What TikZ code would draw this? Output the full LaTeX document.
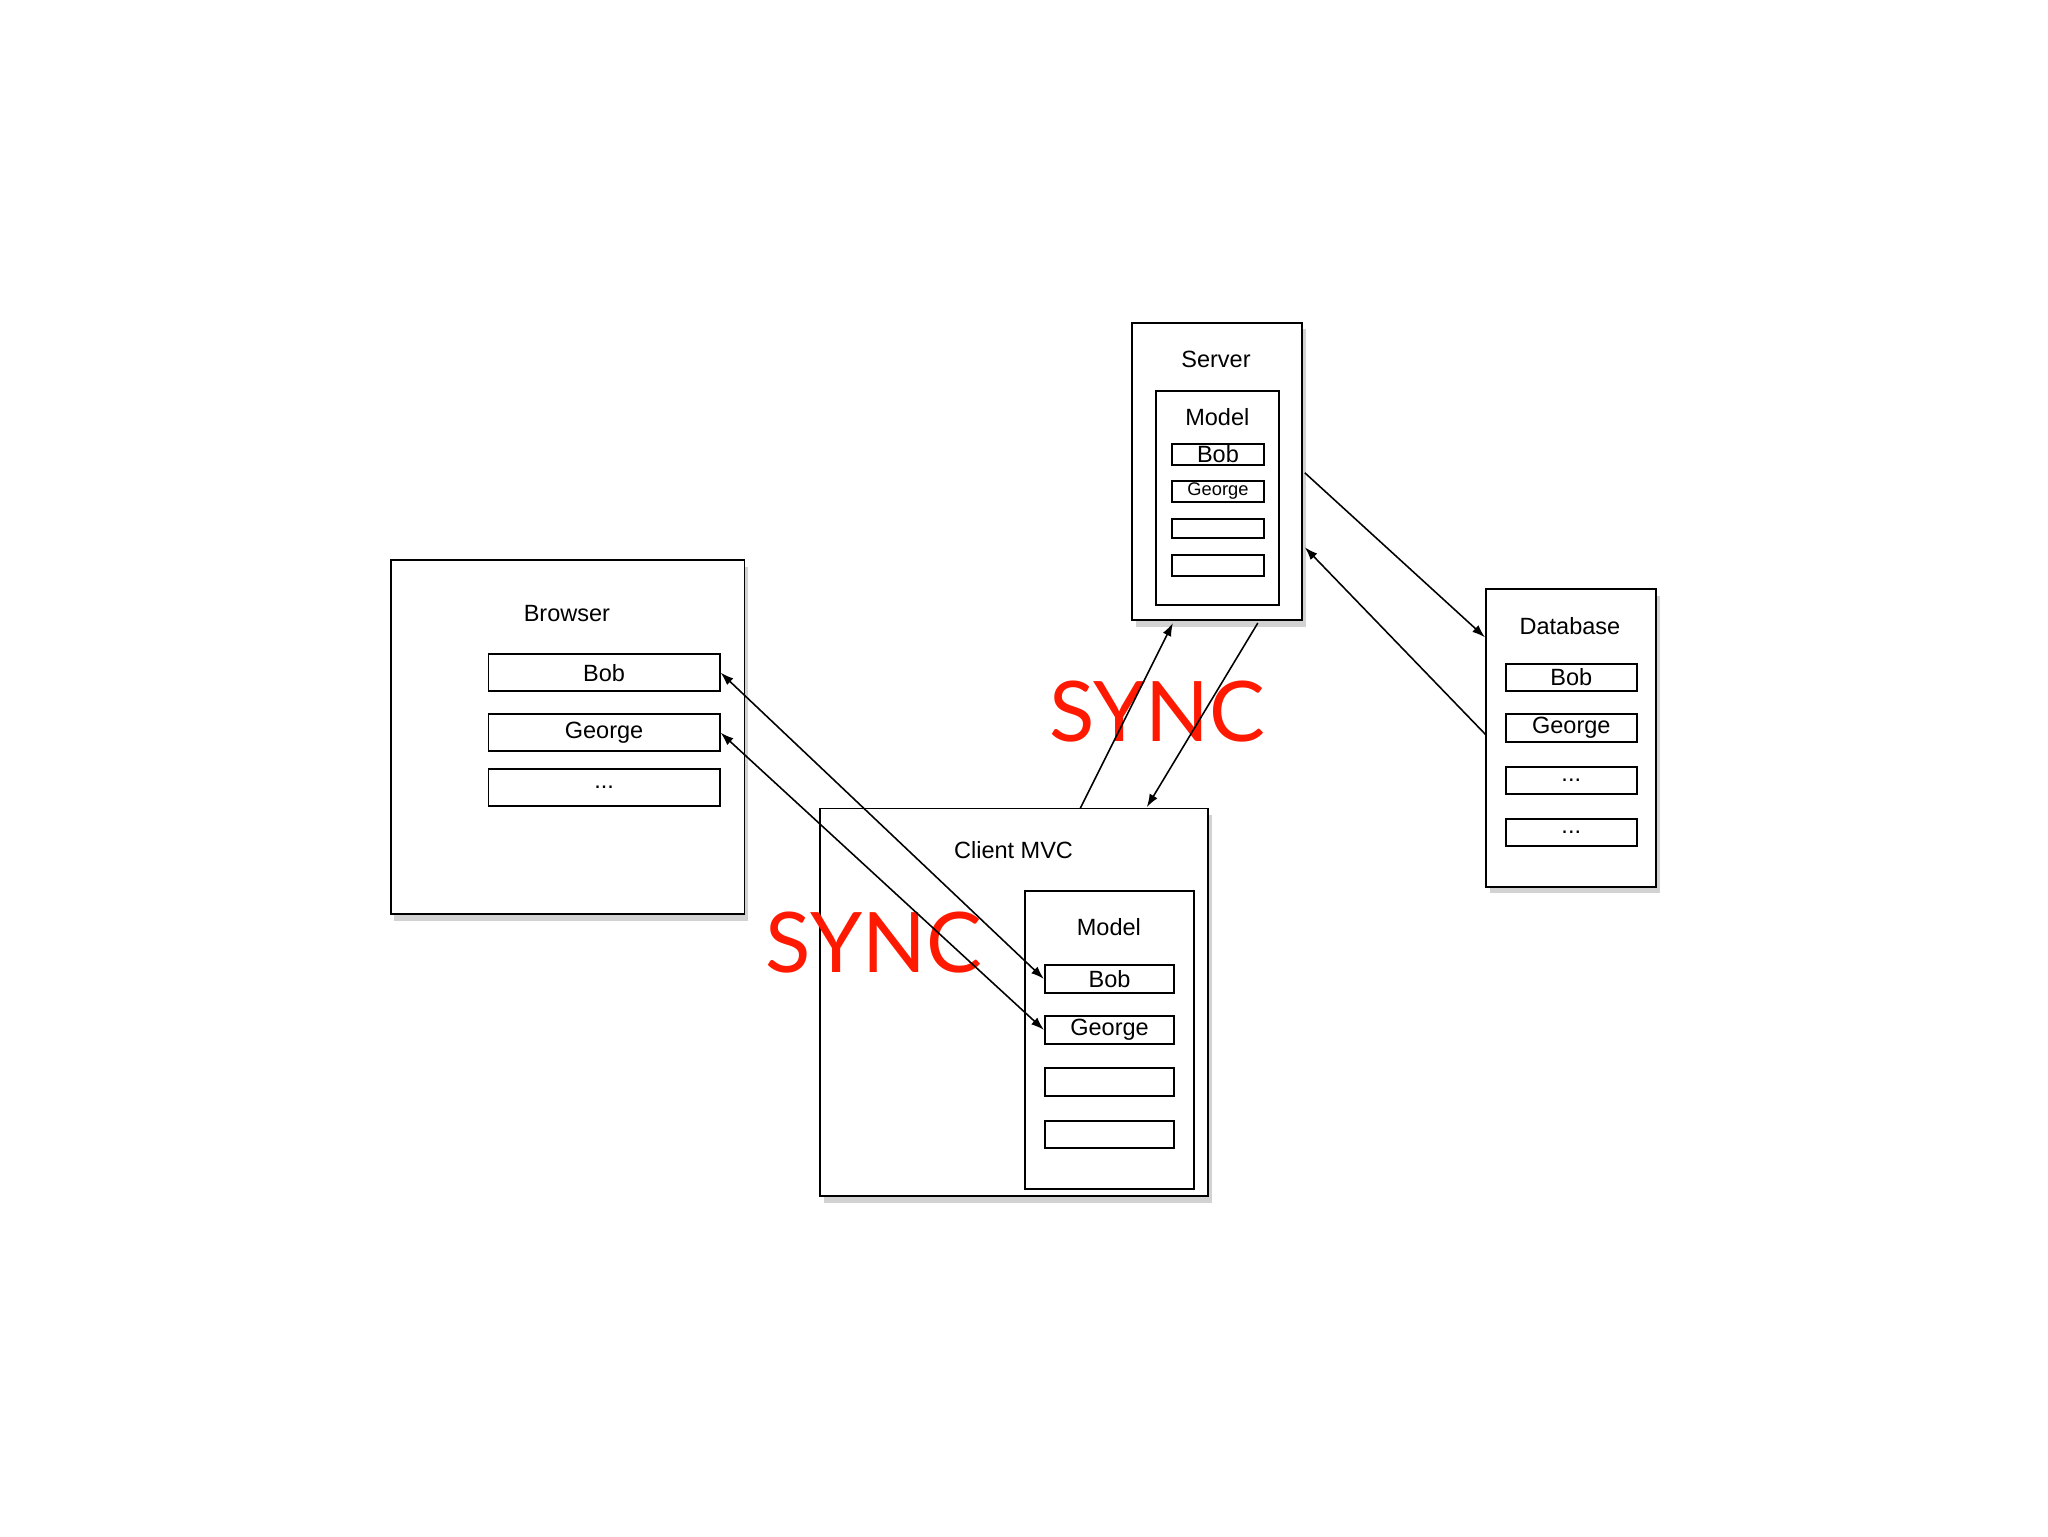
\documentclass[tikz,border=0pt]{standalone}
\usepackage{fontspec}
\setmainfont{Liberation Sans}
\newfontfamily\syncfont{Lato}
\usetikzlibrary{shadows,arrows.meta}
\begin{document}
\begin{tikzpicture}[x=1pt,y=-1pt,
  outer/.style={draw,line width=1.5pt,fill=white,inner sep=0pt,drop shadow={shadow xshift=3pt,shadow yshift=-5pt,opacity=0.35}},
  item/.style={draw,line width=1.5pt,fill=white,inner sep=0pt,font=\fontsize{18}{20}\selectfont},
  lbl/.style={font=\fontsize{18}{20}\selectfont},
  conn/.style={line width=1.2pt,-{Latex[length=10pt,width=7pt]}},
  biconn/.style={line width=1.2pt,{Latex[length=10pt,width=7pt]}-{Latex[length=10pt,width=7pt]}},
  sync/.style={text=red!80!orange,font=\syncfont\fontsize{64}{64}\selectfont}]
\useasboundingbox (0,0) rectangle (1568,1176);
\fill[white] (0,0) rectangle (1568,1176);
% Server
\node[outer,minimum width=130pt,minimum height=228pt] (srv) at (932,361) {};
\node[lbl] (srvl) at (931,275) {Server};
\node[item,minimum width=94pt,minimum height=164pt] (srvm) at (932,381) {};
\node[lbl] (srvml) at (932,319) {Model};
\node[item,minimum width=71pt,minimum height=16pt] (s1) at (932.5,348) {Bob};
\node[item,minimum width=71pt,minimum height=16pt,font=\fontsize{14}{16}\selectfont] (s2) at (932.5,376) {George};
\node[item,minimum width=71pt,minimum height=15pt] (s3) at (932.5,404.5) {};
\node[item,minimum width=71pt,minimum height=16pt] (s4) at (932.5,433) {};
% Database
\node[outer,minimum width=130pt,minimum height=228pt] (db) at (1203,565) {};
\node[lbl] (dbl) at (1202,479) {Database};
\node[item,minimum width=100pt,minimum height=21pt] (d1) at (1203,518.5) {Bob};
\node[item,minimum width=100pt,minimum height=21pt] (d2) at (1203,557.5) {George};
\node[item,minimum width=100pt,minimum height=21pt] (d3) at (1203,597.5) {...};
\node[item,minimum width=100pt,minimum height=21pt] (d4) at (1203,637.5) {...};
% Browser
\node[outer,minimum width=271pt,minimum height=271pt] (br) at (434.5,564.5) {};
\node[lbl] (brl) at (434,470) {Browser};
\node[item,minimum width=177pt,minimum height=28pt] (b1) at (462.5,515) {Bob};
\node[item,minimum width=177pt,minimum height=28pt] (b2) at (462.5,561) {George};
\node[item,minimum width=177pt,minimum height=28pt] (b3) at (462.5,603) {...};
% Client MVC
\node[outer,minimum width=297pt,minimum height=297pt] (cl) at (776.5,767.5) {};
\node[lbl] (cll) at (776,651) {Client MVC};
\node[item,minimum width=129pt,minimum height=228pt] (clm) at (849.5,796) {};
\node[lbl] (clml) at (849,710) {Model};
\node[item,minimum width=99pt,minimum height=21pt] (c1) at (849.5,749.5) {Bob};
\node[item,minimum width=99pt,minimum height=21pt] (c2) at (849.5,788.5) {George};
\node[item,minimum width=99pt,minimum height=21pt] (c3) at (849.5,828.5) {};
\node[item,minimum width=99pt,minimum height=21pt] (c4) at (849.5,868.5) {};
% SYNC labels
\node[sync] (sync1) at (886,545) {SYNC};
\node[sync] (sync2) at (669,722) {SYNC};
% connector endpoints
\coordinate (clt1) at (827,619);
\coordinate (srvb1) at (898,477);
\coordinate (srvb2) at (963,477);
\coordinate (clt2) at (878,618);
\coordinate (srvr1) at (999,362);
\coordinate (dbl1) at (1137,488);
\coordinate (dbl2) at (1138,563);
\coordinate (srvr2) at (999,419);
\draw[biconn] (b1.east) -- (c1.west);
\draw[biconn] (b2.east) -- (c2.west);
\draw[conn] (clt1) -- (srvb1);
\draw[conn] (srvb2) -- (clt2);
\draw[conn] (srvr1) -- (dbl1);
\draw[conn] (dbl2) -- (srvr2);
\end{tikzpicture}
\end{document}
